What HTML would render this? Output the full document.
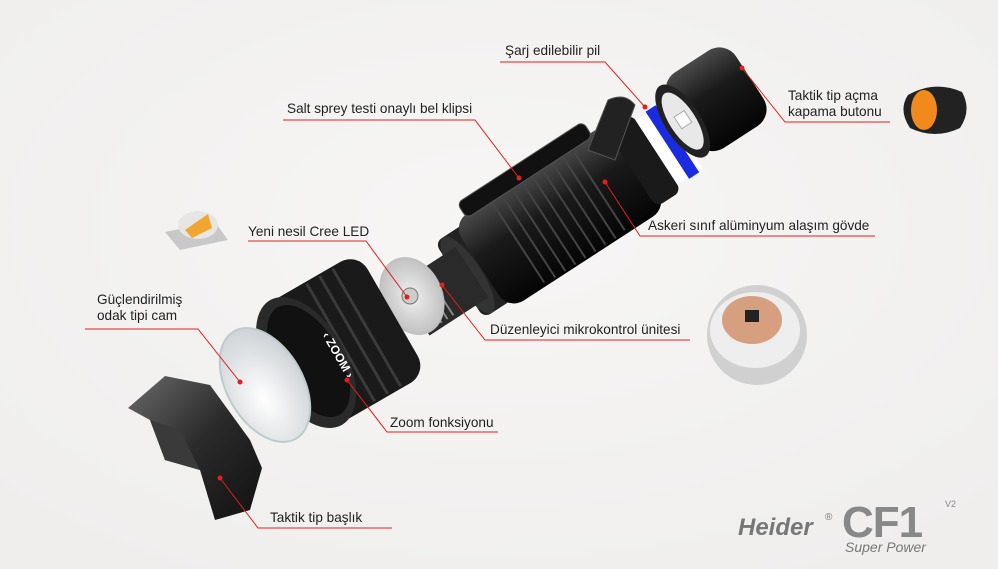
<!DOCTYPE html>
<html><head><meta charset="utf-8"><style>
html,body{margin:0;padding:0;width:998px;height:569px;overflow:hidden;background:#f3f2f1;}
svg{display:block}
text{font-family:"Liberation Sans","DejaVu Sans",sans-serif;}
</style></head><body>
<svg width="998" height="569" viewBox="0 0 998 569" xmlns="http://www.w3.org/2000/svg">
<defs>
<radialGradient id="bg" cx="50%" cy="40%" r="70%"><stop offset="0" stop-color="#f7f6f5"/><stop offset="1" stop-color="#efeeed"/></radialGradient>
<linearGradient id="blk" x1="0" y1="0" x2="0" y2="1"><stop offset="0" stop-color="#4a4a4a"/><stop offset="0.4" stop-color="#1a1a1a"/><stop offset="1" stop-color="#050505"/></linearGradient>
<linearGradient id="cap" x1="0" y1="0" x2="1" y2="1"><stop offset="0" stop-color="#6a6a6a"/><stop offset="0.5" stop-color="#2a2a2a"/><stop offset="1" stop-color="#111"/></linearGradient>
<radialGradient id="lens" cx="40%" cy="60%" r="60%"><stop offset="0" stop-color="#ffffff"/><stop offset="1" stop-color="#d0d4d8"/></radialGradient>
<radialGradient id="disc" cx="50%" cy="50%" r="60%"><stop offset="0" stop-color="#f0f0f0"/><stop offset="1" stop-color="#b8b8b8"/></radialGradient>
</defs>
<rect width="998" height="569" fill="url(#bg)"/>

<!-- main body -->
<g transform="translate(560,215) rotate(-33)">
  <rect x="-120" y="-45" width="60" height="90" rx="8" fill="#222"/>
  <rect x="-95" y="-52" width="190" height="104" rx="18" fill="url(#blk)"/>
  <g stroke="#444" stroke-width="2">
    <line x1="-50" y1="-48" x2="-50" y2="48"/><line x1="-38" y1="-50" x2="-38" y2="50"/><line x1="-26" y1="-50" x2="-26" y2="50"/><line x1="-14" y1="-50" x2="-14" y2="50"/><line x1="-2" y1="-50" x2="-2" y2="50"/><line x1="10" y1="-50" x2="10" y2="50"/><line x1="22" y1="-50" x2="22" y2="50"/><line x1="34" y1="-50" x2="34" y2="50"/><line x1="46" y1="-48" x2="46" y2="48"/>
  </g>
  <rect x="-80" y="-66" width="150" height="18" rx="6" fill="#111" stroke="#555"/>
  <rect x="85" y="-46" width="30" height="92" rx="8" fill="#1a1a1a"/>
  <ellipse cx="-110" cy="0" rx="14" ry="45" fill="#333"/>
  <rect x="-175" y="-30" width="70" height="60" fill="#2a2a2a"/>
  <g stroke="#888" stroke-width="2"><line x1="-165" y1="-26" x2="-165" y2="26"/><line x1="-158" y1="-26" x2="-158" y2="26"/><line x1="-151" y1="-26" x2="-151" y2="26"/><line x1="-144" y1="-26" x2="-144" y2="26"/></g>
  <rect x="115" y="-38" width="30" height="76" fill="#fff"/>
  <rect x="128" y="-40" width="12" height="80" fill="#1a2be0"/>
</g>
<path d="M588,150 L608,100 Q625,92 635,105 L615,160 Z" fill="#222" stroke="#555"/>
<!-- tail cap -->
<g transform="translate(712,102) rotate(-33)">
  <rect x="-35" y="-45" width="80" height="90" rx="20" fill="url(#blk)"/>
  <ellipse cx="-35" cy="0" rx="18" ry="42" fill="#222"/>
  <ellipse cx="-35" cy="0" rx="13" ry="33" fill="#e8e8e8"/>
  <rect x="-40" y="-8" width="12" height="14" fill="#fafafa" stroke="#aaa"/>
</g>

<!-- LED disc -->
<ellipse cx="412" cy="296" rx="30" ry="40" transform="rotate(-25 412 296)" fill="url(#disc)" stroke="#bbb"/>
<circle cx="410" cy="296" r="8" fill="#ccc" stroke="#777"/>

<!-- zoom bezel -->
<g transform="rotate(-30 345 340)">
  <rect x="290" y="270" width="110" height="140" rx="20" fill="#1a1a1a"/>
  <g stroke="#3a3a3a" stroke-width="3"><line x1="340" y1="272" x2="340" y2="408"/><line x1="355" y1="272" x2="355" y2="408"/><line x1="370" y1="272" x2="370" y2="408"/></g>
  <ellipse cx="300" cy="340" rx="40" ry="72" fill="#2a2a2a"/>
  <ellipse cx="303" cy="340" rx="32" ry="62" fill="#111"/>
</g>
<text x="322" y="335" font-size="12" fill="#fff" font-weight="bold" transform="rotate(60 322 335)">‹ ZOOM ›</text>

<!-- lens -->
<ellipse cx="265" cy="385" rx="38" ry="62" transform="rotate(-30 265 385)" fill="url(#lens)" stroke="#bcc" stroke-width="2"/>

<!-- tactical head -->
<path d="M128,408 L165,376 L210,385 L250,440 L262,468 L250,510 L215,520 L200,470 L165,460 L150,420 Z" fill="url(#cap)"/>
<path d="M150,420 L165,460 L200,470 L180,430 Z" fill="#3a3a3a"/>

<!-- small LED icon -->
<path d="M165,232 L215,222 L228,240 L180,250 Z" fill="#c8c8c8"/>
<ellipse cx="198" cy="225" rx="20" ry="14" fill="#e8e6e2"/>
<path d="M185,230 L208,214 L212,228 L192,238 Z" fill="#f0a630"/>

<!-- MCU -->
<circle cx="757" cy="335" r="50" fill="#d0d0d0"/>
<ellipse cx="755" cy="330" rx="45" ry="38" fill="#eee"/>
<ellipse cx="752" cy="320" rx="30" ry="24" fill="#d6a080"/>
<rect x="745" y="310" width="14" height="12" fill="#222"/>

<!-- orange button -->
<path d="M908,95 Q935,80 962,92 Q972,110 960,128 Q935,140 910,128 Q898,110 908,95 Z" fill="#222"/>
<ellipse cx="924" cy="110" rx="13" ry="20" fill="#f08a1c"/>

<!-- connectors -->
<g stroke="#e02020" stroke-width="1" fill="none">
<polyline points="500,62 605,62 645,107"/>
<polyline points="283,120 475,120 519,178"/>
<polyline points="742,68 785,122 890,122"/>
<polyline points="605,182 640,236 875,236"/>
<polyline points="248,241 366,241 407,297"/>
<polyline points="85,329 198,329 240,382"/>
<polyline points="442,285 485,340 690,340"/>
<polyline points="347,380 387,432 498,432"/>
<polyline points="220,478 258,528 392,528"/>
</g>
<g fill="#e02020">
<circle cx="645" cy="107" r="2.5"/><circle cx="519" cy="178" r="2.5"/><circle cx="742" cy="68" r="2.5"/><circle cx="605" cy="182" r="2.5"/><circle cx="407" cy="297" r="2.5"/><circle cx="240" cy="382" r="2.5"/><circle cx="442" cy="285" r="2.5"/><circle cx="347" cy="380" r="2.5"/><circle cx="220" cy="478" r="2.5"/>
</g>
<g font-size="13.6" fill="#222">
<text x="505" y="55">Şarj edilebilir pil</text>
<text x="287" y="113">Salt sprey testi onaylı bel klipsi</text>
<text x="788" y="100">Taktik tip açma</text>
<text x="788" y="116">kapama butonu</text>
<text x="648" y="230">Askeri sınıf alüminyum alaşım gövde</text>
<text x="248" y="236">Yeni nesil Cree LED</text>
<text x="97" y="304">Güçlendirilmiş</text>
<text x="97" y="320">odak tipi cam</text>
<text x="490" y="334">Düzenleyici mikrokontrol ünitesi</text>
<text x="390" y="427">Zoom fonksiyonu</text>
<text x="270" y="522">Taktik tip başlık</text>
</g>

<!-- logo -->
<text x="738" y="535" font-size="24" font-weight="bold" font-style="italic" fill="#777">Heider</text>
<text x="825" y="520" font-size="10" fill="#777">®</text>
<text x="842" y="537" font-size="44" fill="#888" font-weight="bold" letter-spacing="-1">CF1</text>
<text x="945" y="507" font-size="9" fill="#888">V2</text>
<text x="845" y="552" font-size="14" font-style="italic" fill="#777">Super Power</text>
</svg>
</body></html>
